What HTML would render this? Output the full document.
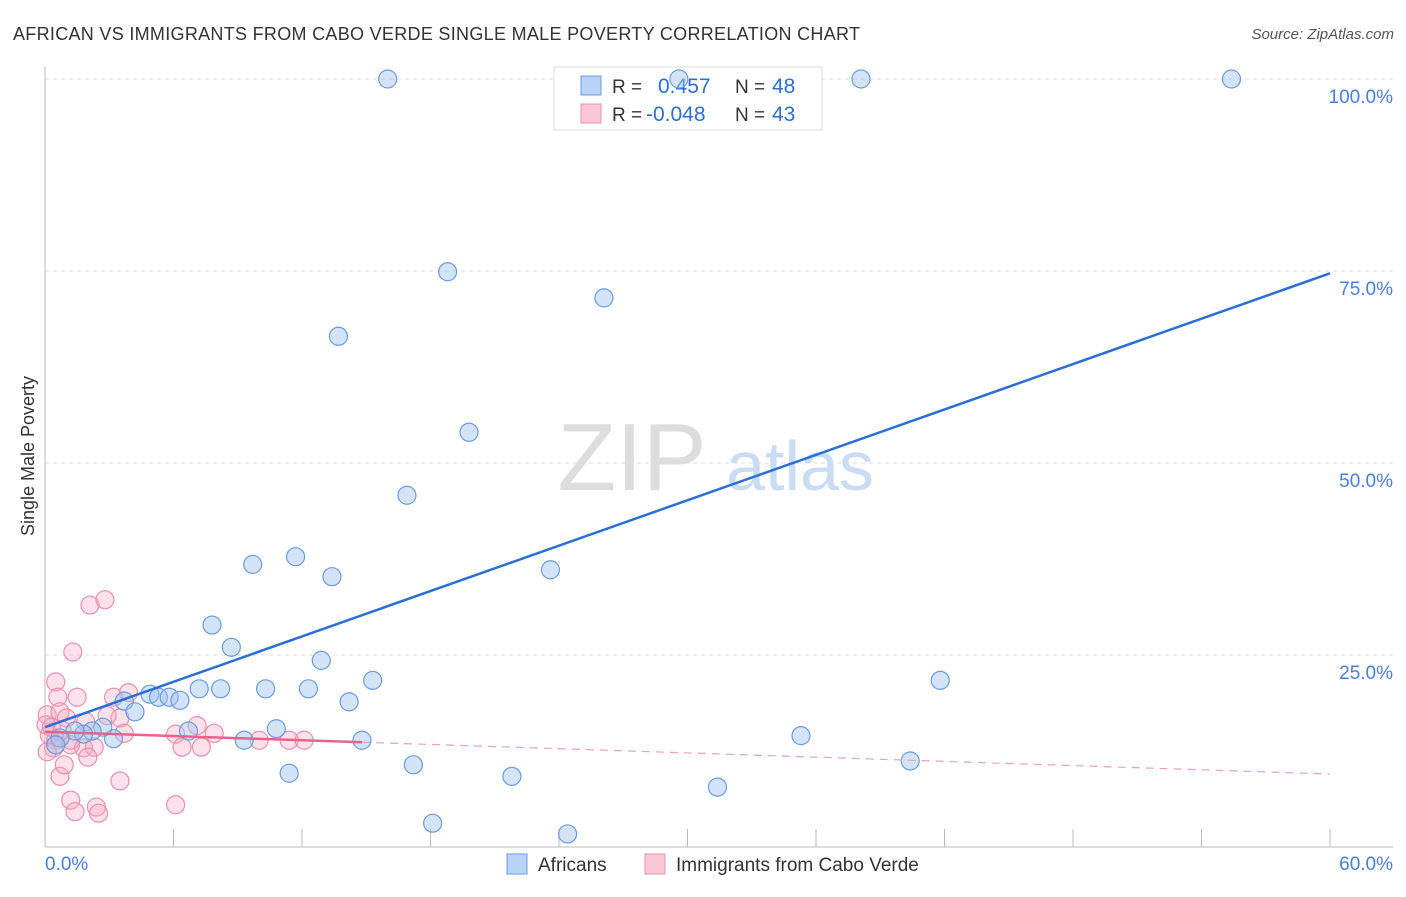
<!DOCTYPE html>
<html><head><meta charset="utf-8"><style>
body{margin:0;background:#fff;font-family:"Liberation Sans",sans-serif}
svg text{font-family:"Liberation Sans",sans-serif}
</style></head><body>
<svg id="chart" width="1406" height="892">
<text x="13" y="40" font-size="18" fill="#333" textLength="847" lengthAdjust="spacing">AFRICAN VS IMMIGRANTS FROM CABO VERDE SINGLE MALE POVERTY CORRELATION CHART</text>
<text x="1394" y="39" font-size="15" fill="#555" font-style="italic" text-anchor="end">Source: ZipAtlas.com</text>
<text transform="translate(34,456) rotate(-90)" font-size="18" fill="#333" text-anchor="middle">Single Male Poverty</text>
<g>
<text x="632" y="490" font-size="96" font-family="Liberation Serif,serif" fill="#ddd" text-anchor="middle">ZIP</text>
<text x="800" y="490" font-size="70" fill="#c8dcf3" text-anchor="middle">atlas</text>
</g>
<g id="grid"></g>
<g>
<rect x="554" y="67" width="268" height="63" fill="#fff" stroke="#ddd"/>
<rect x="581" y="76" width="20" height="19" fill="#b8d3f5" stroke="#6a9be0"/>
<rect x="581" y="104" width="20" height="19" fill="#f9c6d5" stroke="#e890aa"/>
<text x="612" y="93" font-size="19" fill="#333">R =</text><text x="658" y="93" font-size="21" fill="#2b6fd6">0.457</text>
<text x="735" y="93" font-size="19" fill="#333">N =</text><text x="772" y="93" font-size="21" fill="#2b6fd6">48</text>
<text x="612" y="121" font-size="19" fill="#333">R =</text><text x="646" y="121" font-size="21" fill="#2b6fd6">-0.048</text>
<text x="735" y="121" font-size="19" fill="#333">N =</text><text x="772" y="121" font-size="21" fill="#2b6fd6">43</text>
</g>
<g id="marks"></g>
<g>
<rect x="507" y="854" width="20" height="20" fill="#b8d3f5" stroke="#6a9be0"/>
<text x="538" y="871" font-size="19" fill="#333">Africans</text>
<rect x="645" y="854" width="20" height="20" fill="#f9c6d5" stroke="#e890aa"/>
<text x="676" y="871" font-size="19" fill="#333">Immigrants from Cabo Verde</text>
</g>
</svg>
<script>
const blueX=[16.0,29.6,38.1,55.4,18.8,26.1,13.7,19.8,16.9,11.7,9.7,13.4,23.6,7.8,8.7,12.9,41.8,15.3,4.9,5.3,5.8,6.3,7.2,8.2,10.3,12.3,14.2,3.7,4.2,6.7,10.8,9.3,14.8,35.3,40.4,3.2,2.7,2.2,1.8,1.4,0.7,0.5,11.4,17.2,21.8,31.4,18.1,24.4];
const blueY=[100,100,100,100,74.9,71.5,66.5,54.0,45.8,37.8,36.8,35.2,36.1,28.9,26.0,24.3,21.7,21.7,19.9,19.5,19.5,19.1,20.6,20.6,20.6,20.6,18.9,19.0,17.6,15.1,15.4,13.9,13.9,14.5,11.2,14.1,15.6,15.1,14.7,15.1,14.2,13.3,9.6,10.7,9.2,7.8,3.1,1.7];
const pinkX=[2.1,2.8,1.3,0.5,0.6,1.5,3.2,3.9,0.1,0.7,1.0,1.9,3.5,2.9,3.7,7.1,6.1,7.9,6.4,7.3,10.0,11.4,12.1,0.2,0.5,1.2,1.8,2.3,2.0,0.4,0.1,0.7,3.5,1.2,1.4,2.4,2.5,6.1,0.9,0.05,0.3,0.8,1.2];
const pinkY=[31.5,32.2,25.4,21.5,19.5,19.5,19.5,20.1,17.2,17.6,16.8,16.3,16.8,17.1,14.8,15.8,14.7,14.8,13.0,13.0,13.9,13.9,13.9,14.6,13.9,13.3,12.9,13.0,11.7,12.9,12.4,9.2,8.6,6.1,4.6,5.2,4.4,5.5,10.7,15.9,15.6,15.2,13.9];
const blueTrend=[15.6,74.7];
const pinkTrend=[15.0,9.5];
const pinkSolidEnd=14.8;
const yTicks=[25,50,75,100];
const xTickLabels=["0.0%","60.0%"];
const X=v=>45+v/60*1285, Y=v=>847-v*7.68;
const NS="http://www.w3.org/2000/svg";
function mk(t,a,p){const e=document.createElementNS(NS,t);for(const k in a)e.setAttribute(k,a[k]);p.appendChild(e);return e;}
const g=document.getElementById('grid'), m=document.getElementById('marks');
yTicks.forEach(v=>{
 const l=mk('line',{x1:45,x2:1393,y1:Y(v),y2:Y(v),stroke:'#ddd','stroke-dasharray':'4,4'},g);
 
 
 const t=mk('text',{x:1393,y:Y(v)+24,'font-size':19,fill:'#4a7fd8','text-anchor':'end'},g);t.textContent=v.toFixed(1)+'%';
 
 
});
mk('line',{x1:45,x2:45,y1:67,y2:847,stroke:'#bbb'},g);
mk('line',{x1:45,x2:1393,y1:847,y2:847,stroke:'#bbb'},g);
for(let i=0;i<=10;i++){const l=mk('line',{x1:X(i*6),x2:X(i*6),y1:829,y2:847,stroke:'#bbb'},g);
 
 }
const t0=mk('text',{x:45,y:870,'font-size':19,fill:'#4a7fd8'},g);t0.textContent=xTickLabels[0];


const t1=mk('text',{x:1393,y:870,'font-size':19,fill:'#4a7fd8','text-anchor':'end'},g);t1.textContent=xTickLabels[1];


pinkX.forEach((x,i)=>{const c=mk('circle',{cx:X(x),cy:Y(pinkY[i]),r:9,fill:'rgba(246,170,195,0.35)',stroke:'#eb8fab','stroke-width':1.2},m);
 
 });
blueX.forEach((x,i)=>{const c=mk('circle',{cx:X(x),cy:Y(blueY[i]),r:9,fill:'rgba(160,195,240,0.45)',stroke:'#6a9be0','stroke-width':1.2},m);
 
 });
const bl=mk('line',{x1:X(0),y1:Y(blueTrend[0]),x2:X(60),y2:Y(blueTrend[1]),stroke:'#2b6fd6','stroke-width':2.5},m);


const pv=x=>pinkTrend[0]+(pinkTrend[1]-pinkTrend[0])*x/60;
const ps=mk('line',{x1:X(0),y1:Y(pv(0)),x2:X(pinkSolidEnd),y2:Y(pv(pinkSolidEnd)),stroke:'#e8628e','stroke-width':2.5},m);


const pd=mk('line',{x1:X(pinkSolidEnd),y1:Y(pv(pinkSolidEnd)),x2:X(60),y2:Y(pv(60)),stroke:'#e8a0b8','stroke-width':1.2,'stroke-dasharray':'8,6'},m);


</script>
</body></html>
